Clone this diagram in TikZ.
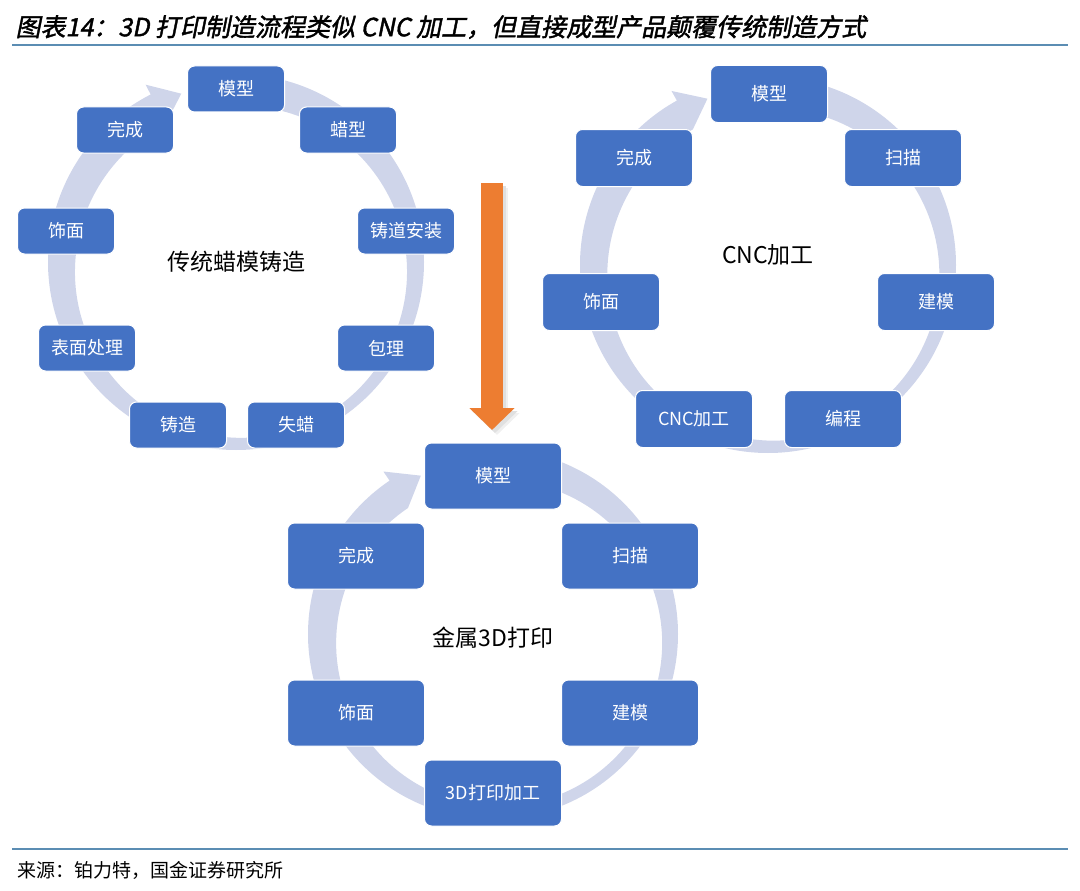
\documentclass[tikz,border=0pt]{standalone}
\usepackage{fontspec}
\usetikzlibrary{arrows.meta}

\newfontfamily\cjk{Noto Sans CJK SC}
\newfontfamily\cjktitle[FakeSlant=0.2,FakeBold=1.6]{Noto Sans CJK SC}

\definecolor{boxblue}{HTML}{4472C4}
\definecolor{ringgray}{HTML}{CFD5EA}
\definecolor{arroworange}{HTML}{ED7D31}
\definecolor{ruleblue}{HTML}{5B8DB3}

% circular arrow behind a cycle: #1 centre, #2 radius, #3 head rear angle, #4 tip angle
\newcommand{\cyclering}[4]{%
  \begin{scope}[shift={(#1)}]
    \pgfmathsetmacro{\ro}{#2+11}%
    \pgfmathsetmacro{\ri}{#2-11}%
    \pgfmathsetmacro{\ea}{#3+360}%
    \pgfmathsetmacro{\eb}{#4+360}%
    \fill[ringgray] (270:\ro) arc[start angle=270, end angle=\ea, radius=\ro]
      -- (\ea:{#2+22}) -- (\eb:#2) -- (\ea:{#2-22})
      arc[start angle=\ea, end angle=270, radius=\ri] -- cycle;
  \end{scope}}

\begin{document}
\begin{tikzpicture}[x=1pt, y=-1pt,
  cbox/.style={rectangle, rounded corners=7pt, fill=boxblue, draw=white,
    line width=1pt, text=white, font=\cjk\fontsize{18}{18}\selectfont},
  boxa/.style={cbox, minimum width=97pt, minimum height=46pt},
  boxb/.style={cbox, minimum width=117pt, minimum height=57pt},
  boxc/.style={cbox, minimum width=137pt, minimum height=66pt},
  cyclename/.style={font=\cjk\fontsize{23}{23}\selectfont}]

\useasboundingbox (0,0) rectangle (1080,891);

% heading and source
\node[anchor=west, font=\cjktitle\fontsize{25}{25}\selectfont] (title) at (12,27)
  {图表14：3D 打印制造流程类似 CNC 加工，但直接成型产品颠覆传统制造方式};
\draw[ruleblue, line width=1.5pt] (12,45) -- (1068,45);
\draw[ruleblue, line width=1.5pt] (12,849) -- (1068,849);
\node[anchor=west, font=\cjk\fontsize{19}{19}\selectfont] (src) at (14,870)
  {来源：铂力特，国金证券研究所};

% centres of the three cycles
\coordinate (wax) at (236,262);
\coordinate (cnc) at (768,265);
\coordinate (met) at (493,634);

\cyclering{wax}{177}{243}{252}
\cyclering{cnc}{177}{241}{250}
\cyclering{met}{174}{236}{245.5}

% lost-wax casting
\foreach \n/\t/\x/\y in {a1/模型/236/89, a2/蜡型/348/130, a3/铸道安装/406/231,
    a4/包理/386/348, a5/失蜡/296/425, a6/铸造/178/425, a7/表面处理/87/348,
    a8/饰面/66/231, a9/完成/125/130}
  \node[boxa] (\n) at (\x,\y) {\t};
\node[cyclename] (waxname) at (wax) {传统蜡模铸造};

% CNC machining
\foreach \n/\t/\x/\y in {b1/模型/769/94, b2/扫描/903/158, b3/建模/936/302,
    b4/编程/843/419, b5/CNC加工/694/419, b6/饰面/601/302, b7/完成/634/158}
  \node[boxb] (\n) at (\x,\y) {\t};
\node[cyclename] (cncname) at ([yshift=10pt]cnc) {CNC加工};

% metal 3D printing
\foreach \n/\t/\x/\y in {c1/模型/493/476, c2/扫描/630/556, c3/建模/630/713,
    c4/3D打印加工/493/793, c5/饰面/356/713, c6/完成/356/556}
  \node[boxc] (\n) at (\x,\y) {\t};
\node[cyclename] (metname) at ([yshift=-4pt]met) {金属3D打印};

% orange arrow with a soft shadow
\coordinate (arrtop) at (492,183);
\coordinate (arrend) at (492,430);
\foreach \s/\o in {5/6, 3/12}
  \draw[black!\o, line width=22pt, -{Triangle[width=44pt,length=22pt]}]
    ([xshift=\s pt, yshift=-\s pt]arrtop) -- ([xshift=\s pt, yshift=-\s pt]arrend);
\draw[arroworange, line width=22pt, -{Triangle[width=44pt,length=22pt]}] (arrtop) -- (arrend);

\end{tikzpicture}
\end{document}
